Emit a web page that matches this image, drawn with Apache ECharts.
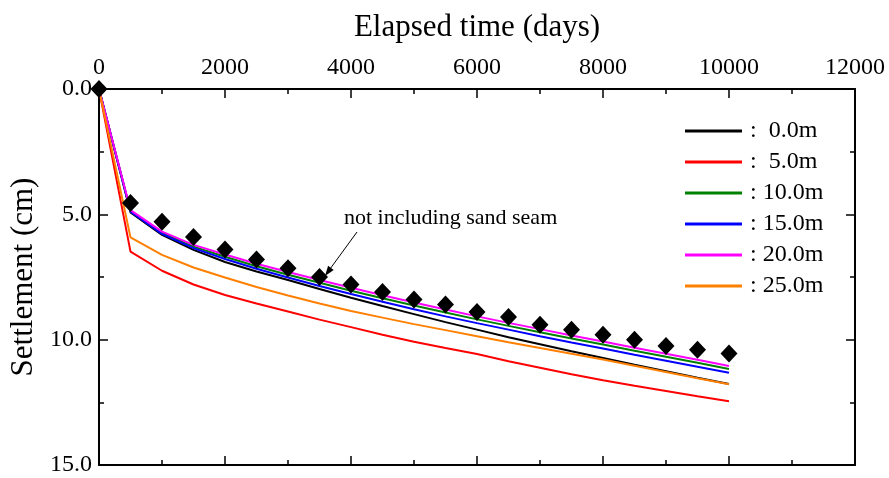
<!DOCTYPE html>
<html>
<head>
<meta charset="utf-8">
<script src="https://cdn.jsdelivr.net/npm/echarts@6/dist/echarts.min.js"></script>
<style>
html,body{margin:0;padding:0;background:#fff;}
#chart{width:889px;height:478px;}
</style>
</head>
<body>
<div id="chart"></div>
<script>
// ---- data ----
const days = [0,500,1000,1500,2000,2500,3000,3500,4000,4500,5000,5500,6000,6500,7000,7500,8000,8500,9000,9500,10000];
const depthNames = ['0.0m','5.0m','10.0m','15.0m','20.0m','25.0m'];
const s00 = [0,4.92,5.82,6.42,6.90,7.28,7.62,7.98,8.33,8.66,8.98,9.30,9.60,9.90,10.18,10.46,10.73,11.00,11.26,11.52,11.77];
const s05 = [0,6.49,7.25,7.80,8.22,8.56,8.88,9.20,9.50,9.80,10.08,10.33,10.57,10.86,11.12,11.38,11.62,11.84,12.05,12.26,12.46];
const s10 = [0,4.86,5.74,6.29,6.69,7.07,7.41,7.73,8.05,8.35,8.64,8.92,9.19,9.45,9.70,9.95,10.19,10.44,10.68,10.92,11.17];
const s15 = [0,4.89,5.78,6.35,6.78,7.17,7.52,7.86,8.18,8.49,8.79,9.07,9.34,9.60,9.86,10.11,10.35,10.60,10.84,11.08,11.32];
const s20 = [0,4.83,5.69,6.22,6.60,6.97,7.30,7.62,7.93,8.23,8.52,8.80,9.07,9.33,9.58,9.83,10.07,10.32,10.56,10.80,11.05];
const s25 = [0,5.92,6.62,7.12,7.52,7.90,8.24,8.56,8.86,9.12,9.38,9.62,9.86,10.10,10.33,10.56,10.79,11.04,11.29,11.54,11.78];
const measured = [0,4.55,5.30,5.90,6.40,6.80,7.15,7.50,7.80,8.10,8.40,8.60,8.90,9.10,9.40,9.60,9.80,10.00,10.25,10.40,10.55];
const xTicks = [0,2000,4000,6000,8000,10000,12000];
const yTicks = [0,5,10,15];
const lineColors = ['#000000','#ff0000','#008000','#0000ff','#ff00ff','#ff8000'];

const FONT = "'Liberation Serif','Times New Roman',serif";
const pair = arr => arr.map((v,i)=>[days[i], v]);
const lineSets = [s00,s05,s10,s15,s20,s25];

const chart = echarts.init(document.getElementById('chart'));

const axisLine = {show:true, onZero:false, lineStyle:{color:'#000', width:2}};
const axisTick = {show:true, inside:true, length:9, lineStyle:{color:'#000', width:1.5}};
const minorTick = {show:true, splitNumber:2, length:5, lineStyle:{color:'#000', width:1.5}};

const series = lineSets.map((arr,k)=>({
  name: depthNames[k],
  type:'line',
  data: pair(arr),
  showSymbol:false,
  symbol:'none',
  lineStyle:{color:lineColors[k], width:2},
  itemStyle:{color:lineColors[k]},
  z: 3
}));
series.push({
  name:'measured',
  type:'scatter',
  data: pair(measured),
  symbol:'diamond',
  symbolSize:[17,18],
  itemStyle:{color:'#000', opacity:1},
  clip:false,
  z: 5
});

chart.setOption({
  animation:false,
  backgroundColor:'#fff',
  grid:{left:99, right:34, top:89, bottom:13},
  legend:{
    data: depthNames,
    orient:'vertical',
    left:680, top:114,
    itemWidth:57, itemHeight:3,
    itemGap:7,
    icon:'rect',
    formatter: n => ': ' + (n.length < 5 ? ' ' : '') + n,
    textStyle:{fontFamily:FONT, fontSize:24, color:'#000', lineHeight:24, padding:[0,0,0,3]}
  },
  xAxis:[{
    type:'value', position:'top', min:0, max:12000, interval:2000,
    name:'Elapsed time (days)', nameLocation:'middle', nameGap:46,
    nameTextStyle:{fontFamily:FONT, fontSize:31, color:'#000'},
    axisLine, axisTick, minorTick,
    axisLabel:{fontFamily:FONT, fontSize:24, color:'#000', margin:9, formatter:v=>String(v)},
    splitLine:{show:false}
  },{
    type:'value', position:'bottom', min:0, max:12000, interval:2000,
    axisLine, axisTick, minorTick,
    axisLabel:{show:false}, splitLine:{show:false}
  }],
  yAxis:[{
    type:'value', inverse:true, min:0, max:15, interval:5,
    name:'Settlement (cm)', nameLocation:'middle', nameGap:58, nameRotate:90,
    nameTextStyle:{fontFamily:FONT, fontSize:31, color:'#000'},
    axisLine, axisTick, minorTick,
    axisLabel:{fontFamily:FONT, fontSize:24, color:'#000', margin:7, formatter:v=>v.toFixed(1)},
    splitLine:{show:false}
  },{
    type:'value', position:'right', inverse:true, min:0, max:15, interval:5,
    axisLine, axisTick, minorTick,
    axisLabel:{show:false}, splitLine:{show:false}
  }],
  series,
  graphic:[
    {type:'text', left:344, top:207, style:{text:'not including sand seam', font:"22px 'Liberation Serif','Times New Roman',serif", fill:'#000'}, z:10},
    {type:'line', shape:{x1:357,y1:232,x2:330,y2:269}, style:{stroke:'#000', lineWidth:1}, z:10},
    {type:'polygon', shape:{points:[[325,276],[333.7,270.0],[328.1,265.8]]}, style:{fill:'#000'}, z:10}
  ]
});
</script>
</body>
</html>
